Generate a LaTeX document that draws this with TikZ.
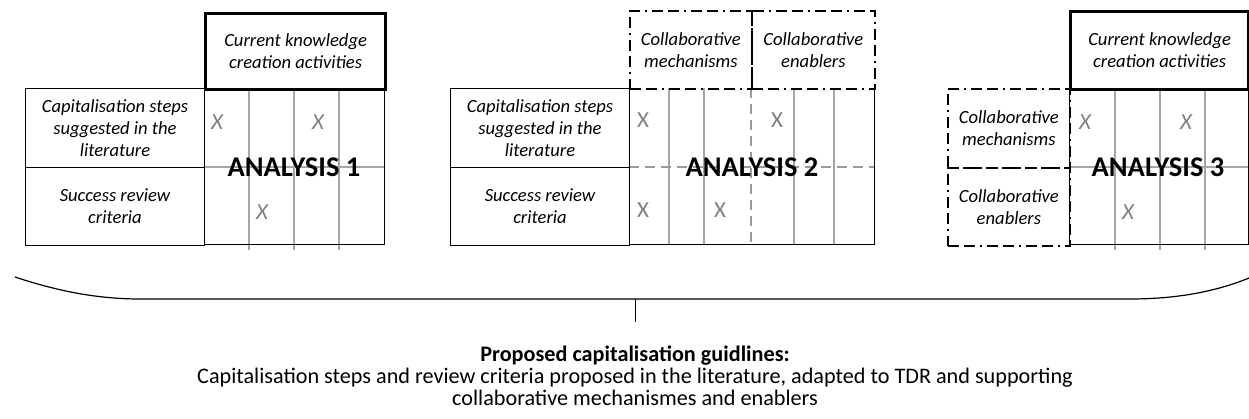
\documentclass[tikz,border=0pt]{standalone}
\usepackage{fontspec}
\setmainfont{Carlito}
\begin{document}
\begin{tikzpicture}[x=1pt,y=-1pt,
  txt/.style={font=\fontsize{18.6}{22}\selectfont\itshape, align=center, text=black},
  cell/.style={draw=black, line width=1pt, anchor=north west, inner sep=0pt, txt},
  thickbox/.style={draw=black, line width=3.2pt, anchor=north west, inner sep=0pt, txt},
  ddbox/.style={draw=black, line width=1.8pt, dash pattern=on 11pt off 5pt on 11pt off 5pt on 2pt off 5pt, anchor=north west, inner sep=0pt, txt},
  gridln/.style={draw=black!35, line width=1.2pt},
  gdash/.style={draw=black!40, line width=2pt, dash pattern=on 10pt off 6pt},
  outer/.style={draw=black, line width=1pt},
  xmk/.style={font=\fontsize{23}{23}\selectfont, text=black!50},
  ixmk/.style={font=\fontsize{23}{23}\selectfont\itshape, text=black!50},
  title/.style={font=\fontsize{28.5}{28.5}\selectfont\bfseries, text=black},
  bottxt/.style={font=\fontsize{22.2}{22}\selectfont, align=center}
]
\useasboundingbox (0,0) rectangle (1249,419);

% ---------------- Analysis 1 ----------------
\foreach \x in {249,294,339} \draw[gridln] (\x,88) -- (\x,250);
\draw[gridln] (204,167) -- (384,167);
\draw[outer] (204,245) -- (384,245) -- (384,88);
\node[cell, minimum width=179pt, minimum height=79pt] (a1s) at (25,88) {Capitalisation steps\\suggested in the\\literature};
\node[cell, minimum width=179pt, minimum height=78pt] (a1r) at (25,167) {Success review\\criteria};
\node[thickbox, minimum width=180pt, minimum height=76pt] (a1c) at (204,12) {Current knowledge\\creation activities};
\node[ixmk] (a1x1) at (217,122) {X};
\node[ixmk] (a1x2) at (318,122) {X};
\node[ixmk] (a1x3) at (262,212) {X};
\node[title] (a1t) at (294,167) {ANALYSIS 1};

% ---------------- Analysis 2 ----------------
\foreach \x in {669,704,794,834} \draw[gridln] (\x,88) -- (\x,245);
\draw[gdash] (629,167) -- (874,167);
\draw[gdash] (751,88) -- (751,245);
\draw[outer] (629,245) -- (874,245) -- (874,88);
\node[cell, minimum width=179pt, minimum height=79pt] (a2s) at (450,88) {Capitalisation steps\\suggested in the\\literature};
\node[cell, minimum width=179pt, minimum height=78pt] (a2r) at (450,167) {Success review\\criteria};
\node[ddbox, minimum width=122pt, minimum height=78pt] (a2m) at (629,10) {Collaborative\\mechanisms};
\node[ddbox, minimum width=123pt, minimum height=78pt] (a2e) at (751,10) {Collaborative\\enablers};
\node[xmk] (a2x1) at (643,120) {X};
\node[xmk] (a2x2) at (777,120) {X};
\node[xmk] (a2x3) at (643,210) {X};
\node[xmk] (a2x4) at (720,210) {X};
\node[title] (a2t) at (752,167) {ANALYSIS 2};

% ---------------- Analysis 3 ----------------
\foreach \x in {1115,1160,1205} \draw[gridln] (\x,88) -- (\x,250);
\draw[gridln] (1069,167) -- (1248,167);
\draw[outer] (1069,88) -- (1069,245) -- (1248,245) -- (1248,88);
\node[ddbox, minimum width=122pt, minimum height=79pt] (a3m) at (947,88) {Collaborative\\mechanisms};
\node[ddbox, minimum width=122pt, minimum height=78pt] (a3e) at (947,167) {Collaborative\\enablers};
\node[thickbox, minimum width=178pt, minimum height=78pt] (a3c) at (1069,10) {Current knowledge\\creation activities};
\node[ixmk] (a3x1) at (1085,122) {X};
\node[ixmk] (a3x2) at (1186,122) {X};
\node[ixmk] (a3x3) at (1128,212) {X};
\node[title] (a3t) at (1158,167) {ANALYSIS 3};

% ---------------- Brace ----------------
\coordinate (bl) at (15,277);
\coordinate (bl2) at (140,299);
\coordinate (bm) at (635,299);
\coordinate (br2) at (1130,299);
\coordinate (br) at (1249,278);
\coordinate (bt) at (635,322);
\draw[line width=1.2pt] (bl) .. controls (60,292) and (100,299) .. (bl2) -- (br2) .. controls (1175,299) and (1215,292) .. (br);
\draw[line width=1pt] (bm) -- (bt);

% ---------------- Bottom text ----------------
\node[bottxt] (res) at (635,376) {\textbf{Proposed capitalisation guidlines:}\\Capitalisation steps and review criteria proposed in the literature, adapted to TDR and supporting\\collaborative mechanismes and enablers};
\end{tikzpicture}
\end{document}
